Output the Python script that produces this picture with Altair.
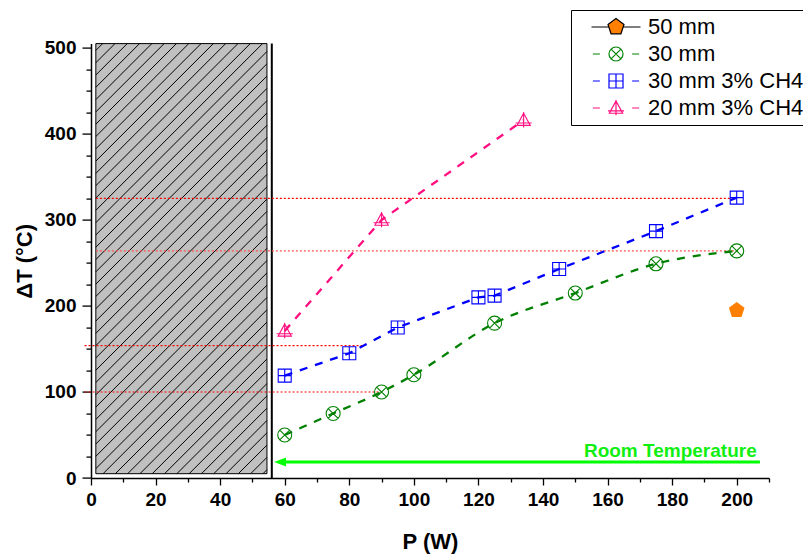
import altair as alt
import pandas as pd
import numpy as np

# ---------------- data ----------------
series = ["50 mm", "30 mm", "30 mm 3% CH4", "20 mm 3% CH4"]
colors = ["#ff8000", "#008000", "#0000ff", "#ff0f80"]

p_50 = [200]
t_50 = [195]
p_30 = [60, 75, 90, 100, 125, 150, 175, 200]
t_30 = [50, 75, 100, 120, 180, 215, 249, 264]
p_30ch4 = [60, 80, 95, 120, 125, 145, 175, 200]
t_30ch4 = [119, 145, 175, 210, 212, 243, 287, 326]
p_20ch4 = [60, 90, 134]
t_20ch4 = [171, 300, 416]

ref_levels = [325, 264, 154, 100]
ref_start = [1.5, 1.5, -2, -2]
ref_end = [200, 200, 84.5, 90]
ref_colors = ["#ff0000", "#ff5050", "#ff0000", "#ff0000"]

hatch_x = [1.5, 54.5]
hatch_y = [5, 505]
wall_x = 56
arrow_y = 18.5
arrow_from = 207.2
arrow_to = 56.7
label_text = "Room Temperature"
label_pos = [206.2, 31]

x_domain = [0, 210]
y_domain = [0, 505]

# ---------------- layout ----------------
W, H = 678, 434.4
FONT = "Liberation Sans"

xs = alt.Scale(domain=x_domain, nice=False, zero=False)
ys = alt.Scale(domain=y_domain, nice=False, zero=False)

xaxis = alt.Axis(
    values=list(range(0, 211, 10)),
    labelExpr="datum.value % 20 === 0 ? datum.label : ''",
    tickSize={"condition": {"test": "datum.value % 20 === 0", "value": 7}, "value": 4},
    grid=False, domainColor="black", domainWidth=1.5, tickColor="black", tickWidth=1.3,
    labelFont=FONT, labelFontSize=19, labelFontWeight="bold", labelColor="black",
    labelPadding=5, labelFlush=False, labelOverlap=False,
    title="P (W)", titleFont=FONT, titleFontSize=22, titleFontWeight="bold",
    titleColor="black", titlePadding=22,
)
yaxis = alt.Axis(
    values=list(range(0, 501, 25)),
    labelExpr="datum.value % 100 === 0 ? datum.label : ''",
    tickSize={"condition": {"test": "datum.value % 100 === 0", "value": 9}, "value": 5},
    grid=False, domainColor="black", domainWidth=1.5, tickColor="black", tickWidth=1.3,
    labelFont=FONT, labelFontSize=19, labelFontWeight="bold", labelColor="black",
    labelPadding=6, labelFlush=False, labelOverlap=False,
    title="ΔT (°C)", titleFont=FONT, titleFontSize=22, titleFontWeight="bold",
    titleColor="black", titlePadding=8,
)


def X(f):
    return alt.X(f, type="quantitative", scale=xs, axis=xaxis)


def Y(f):
    return alt.Y(f, type="quantitative", scale=ys, axis=yaxis)


layers = []

# hatched region
rect_df = pd.DataFrame({"x1": [hatch_x[0]], "x2": [hatch_x[1]], "y1": [hatch_y[0]], "y2": [hatch_y[1]]})
layers.append(
    alt.Chart(rect_df).mark_rect(fill="#c0c0c0", stroke="black", strokeWidth=1)
    .encode(x=X("x1"), x2="x2", y=Y("y1"), y2="y2")
)

kx = W / (x_domain[1] - x_domain[0])
ky = H / (y_domain[1] - y_domain[0])
wpx = (hatch_x[1] - hatch_x[0]) * kx
hpx = (hatch_y[1] - hatch_y[0]) * ky
sp = 12.3
rows = []
for c in np.arange(-wpx + 4, hpx, sp):
    u0 = max(0.0, -c)
    u1 = min(wpx, hpx - c)
    if u1 > u0:
        rows.append({
            "hx": hatch_x[0] + u0 / kx, "hy": hatch_y[0] + (u0 + c) / ky,
            "hx2": hatch_x[0] + u1 / kx, "hy2": hatch_y[0] + (u1 + c) / ky,
        })
hatch_df = pd.DataFrame(rows)
layers.append(
    alt.Chart(hatch_df).mark_rule(color="black", strokeWidth=1)
    .encode(x=X("hx"), x2="hx2", y=Y("hy"), y2="hy2")
)

# wall line
wall_df = pd.DataFrame({"x": [wall_x], "y1": [y_domain[0]], "y2": [y_domain[1]]})
layers.append(
    alt.Chart(wall_df).mark_rule(color="black", strokeWidth=2)
    .encode(x=X("x"), y=Y("y1"), y2="y2")
)

# red dotted reference lines
for lvl, s, e, c in zip(ref_levels, ref_start, ref_end, ref_colors):
    d = pd.DataFrame({"x1": [s], "x2": [e], "y": [lvl]})
    layers.append(
        alt.Chart(d).mark_rule(color=c, strokeWidth=1.2, strokeDash=[2, 2])
        .encode(x=X("x1"), x2="x2", y=Y("y"))
    )

# markers
circ_x = "M-1,0A1,1 0 1,1 1,0A1,1 0 1,1 -1,0ZM-0.707,-0.707L0.707,0.707M-0.707,0.707L0.707,-0.707"
sq_plus = "M-1,-1H1V1H-1ZM0,-1V1M-1,0H1"
tri = "M0,-1L0.95,0.75L-0.95,0.75ZM0,-1.15V1.05M-1.15,0.4H1.15"
pent = "M0,-1L0.951,-0.309L0.588,0.809L-0.588,0.809L-0.951,-0.309Z"

all_p = [p_50, p_30, p_30ch4, p_20ch4]
all_t = [t_50, t_30, t_30ch4, t_20ch4]
shapes = [pent, circ_x, sq_plus, tri]
sizes = [270, 196, 169, 196]
interps = [None, "monotone", "linear", "linear"]

for i in range(4):
    d = pd.DataFrame({"P": all_p[i], "T": all_t[i]})
    if i == 0:
        m = alt.Chart(d).mark_point(shape=shapes[i], filled=True, fill=colors[i], stroke=None,
                                    opacity=1, size=sizes[i])
    else:
        m = alt.Chart(d).mark_point(shape=shapes[i], filled=False, stroke=colors[i],
                                    strokeWidth=1.1, opacity=1, size=sizes[i])
    layers.append(m.encode(x=X("P"), y=Y("T")))

# dashed lines
for i in range(1, 4):
    d = pd.DataFrame({"P": all_p[i], "T": all_t[i]})
    layers.append(
        alt.Chart(d).mark_line(color=colors[i], strokeWidth=2.3, strokeDash=[8, 8],
                               interpolate=interps[i])
        .encode(x=X("P"), y=Y("T"))
    )

# room temperature arrow
arr_df = pd.DataFrame({"x1": [arrow_from], "x2": [arrow_to + 2], "y": [arrow_y]})
layers.append(
    alt.Chart(arr_df).mark_rule(color="#00ff00", strokeWidth=3)
    .encode(x=X("x1"), x2="x2", y=Y("y"))
)
head_df = pd.DataFrame({"x": [arrow_to], "y": [arrow_y]})
layers.append(
    alt.Chart(head_df).mark_point(shape="M0,0L2,-0.75L2,0.75Z", filled=True, fill="#00ff00",
                                  stroke=None, opacity=1, size=144)
    .encode(x=X("x"), y=Y("y"))
)
txt_df = pd.DataFrame({"x": [label_pos[0]], "y": [label_pos[1]], "t": [label_text]})
layers.append(
    alt.Chart(txt_df).mark_text(align="right", baseline="middle", font=FONT, fontSize=19,
                                fontWeight="bold", color="#11ee11")
    .encode(x=X("x"), y=Y("y"), text="t:N")
)

# legend (built from an empty layer with explicit domains)
leg_paths = [
    "M-3.5,0H-1.1M1.1,0H3.5" + "M0,-1.2L1.141,-0.371L0.706,0.971L-0.706,0.971L-1.141,-0.371Z",
    "M-3.3,0H-2.3M2.3,0H3.3" + circ_x,
    "M-3.3,0H-2.3M2.3,0H3.3" + sq_plus,
    "M-3.3,0H-2.3M2.3,0H3.3" + tri,
]
leg_strokes = ["black", colors[1], colors[2], colors[3]]
leg_fills = [colors[0], "transparent", "transparent", "transparent"]
leg = alt.Legend(
    orient="none", legendX=480, legendY=-33.6, title=None, padding=6,
    strokeColor="black", fillColor="white", symbolSize=196, symbolStrokeWidth=1.2,
    symbolOffset=28, labelOffset=21, labelFont=FONT, labelFontSize=22, labelColor="black",
    rowPadding=5, labelLimit=400, direction="vertical",
)
leg_df = pd.DataFrame({"series": series, "P": [0] * 4, "T": [0] * 4})
layers.append(
    alt.Chart(leg_df).mark_point(opacity=1, strokeWidth=1.2)
    .transform_filter("false")
    .encode(
        x=X("P"), y=Y("T"),
        shape=alt.Shape("series:N", scale=alt.Scale(domain=series, range=leg_paths), legend=leg),
        stroke=alt.Stroke("series:N", scale=alt.Scale(domain=series, range=leg_strokes), legend=leg),
        fill=alt.Fill("series:N", scale=alt.Scale(domain=series, range=leg_fills), legend=leg),
    )
)

chart = alt.layer(*layers).properties(
    width=W, height=H,
    padding={"left": 83, "top": 35.6, "right": 34, "bottom": 78},
    autosize=alt.AutoSizeParams(type="none"),
).configure_view(stroke=None)

chart.save("out.html", embed_options={"renderer": "svg", "actions": False})
